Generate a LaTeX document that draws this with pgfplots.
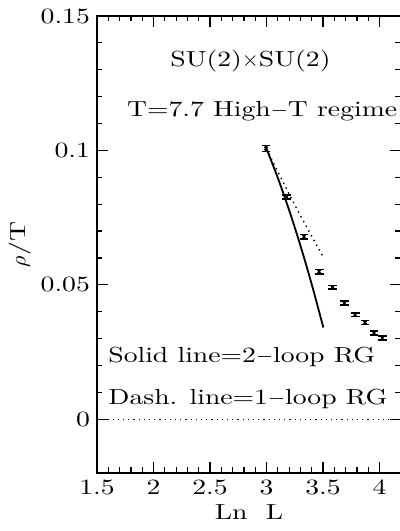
\documentclass[border=0pt]{standalone}
\usepackage{fontspec}
\setmainfont{Latin Modern Roman}[FakeStretch=1.27]
\usepackage{pgfplots}
\pgfplotsset{compat=1.18}
\newcommand{\fs}{\fontsize{10.9}{13}\selectfont}
\begin{document}
\begin{tikzpicture}
\begin{axis}[
  scale only axis,
  width=152pt, height=228.5pt,
  xmin=1.5, xmax=4.19, ymin=-0.02, ymax=0.15,
  xtick={1.5,2,2.5,3,3.5,4},
  xticklabels={1.5,2,2.5,3,3.5,4},
  ytick={0,0.05,0.1,0.15},
  yticklabels={0,0.05,0.1,0.15},
  minor x tick num=4, minor y tick num=4,
  tick align=inside,
  major tick length=5.5pt, minor tick length=2.75pt,
  tick label style={font=\fs},
  label style={font=\fs},
  xlabel={Ln\ \ L},
  ylabel={$\rho$/T},
  xlabel style={yshift=2pt},
  ylabel style={yshift=-2pt},
  axis line style={draw=none},
  tick style={line width=0.6pt, black},
  clip=false,
]
\coordinate (ll) at (rel axis cs:0,0);
\draw[line width=0.8pt, black] (rel axis cs:1,1) -- (rel axis cs:0,1) -- (rel axis cs:0,0) -- (rel axis cs:1,0);
\addplot[dotted, line width=0.6pt] coordinates {(1.5,0) (4.19,0)};
\addplot[line width=0.9pt, smooth] coordinates {
(3.0,0.1006) (3.1,0.0898) (3.2,0.0778) (3.3,0.0646) (3.4,0.0502) (3.503,0.0341)};
\addplot[dotted, line width=0.7pt, smooth] coordinates {
(3.0,0.1006) (3.25,0.0797) (3.5,0.0605)};
\addplot[only marks, mark=x, mark size=1.2pt, mark options={line width=0.6pt},
  error bars/.cd, y dir=both, y explicit,
  error bar style={line width=0.7pt},
  error mark options={rotate=90, mark size=2.2pt, line width=0.8pt}]
  table[x=x, y=y, y error=e] {
x y e
2.996 0.1007 0.0011
3.178 0.0827 0.0008
3.332 0.0679 0.0008
3.466 0.0549 0.0008
3.584 0.0491 0.0007
3.689 0.0432 0.0007
3.784 0.0389 0.0007
3.871 0.0360 0.0007
3.951 0.0321 0.0007
4.025 0.0302 0.0007
};
\node[font=\fs] at (axis cs:2.858,0.1333) {SU(2)$\times$SU(2)};
\node[font=\fs, anchor=east, inner sep=0pt] at (axis cs:4.16,0.1145) {T=7.7 High$-$T regime};
\node[font=\fs, anchor=west, inner sep=0pt] at (axis cs:1.597,0.0230) {Solid line=2$-$loop RG};
\node[font=\fs, anchor=west, inner sep=0pt] at (axis cs:1.597,0.0075) {Dash. line=1$-$loop RG};
\end{axis}
\pgfresetboundingbox
\path ([shift={(-48.5pt,-29pt)}]ll) rectangle ++(200pt,265.5pt);
\end{tikzpicture}
\end{document}
